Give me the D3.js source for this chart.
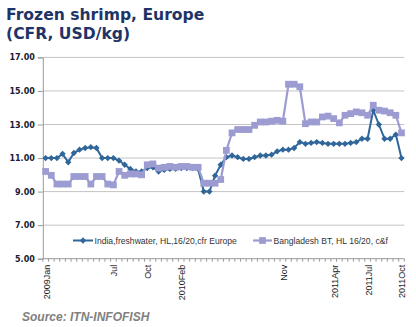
<!DOCTYPE html>
<html>
<head>
<meta charset="utf-8">
<script src="https://cdn.jsdelivr.net/npm/d3@7"></script>
<style>
  body { margin: 0; background: #fff; }
  svg { display: block; }
</style>
</head>
<body>
<svg id="chart" width="416" height="327"></svg>
<script>
// half-monthly price quotes, 2009Jan .. 2011Oct
var india = [11.0, 11.0, 11.0, 11.25, 10.75, 11.3, 11.5, 11.6, 11.65, 11.6,
  11.0, 11.0, 11.0, 10.85, 10.6, 10.35, 10.2, 10.2, 10.4, 10.45,
  10.2, 10.3, 10.35, 10.35, 10.4, 10.4, 10.4, 10.35, 9.0, 9.0,
  9.95, 10.6, 11.05, 11.15, 11.05, 10.95, 10.95, 11.05, 11.15, 11.15,
  11.2, 11.4, 11.5, 11.5, 11.6, 11.95, 11.85, 11.9, 11.95, 11.9,
  11.85, 11.85, 11.85, 11.85, 11.9, 11.95, 12.15, 12.15, 13.85, 13.0,
  12.15, 12.15, 12.4, 11.0];

var bangladesh = [10.2, 9.97, 9.45, 9.45, 9.45, 9.9, 9.9, 9.9, 9.45, 9.9,
  9.9, 9.45, 9.4, 10.2, 9.97, 10.05, 10.05, 10.0, 10.6, 10.65,
  10.4, 10.45, 10.5, 10.45, 10.5, 10.5, 10.45, 10.45, 9.5, 9.5,
  9.5, 9.72, 11.46, 12.5, 12.7, 12.7, 12.7, 12.95, 13.15, 13.15,
  13.2, 13.25, 13.2, 15.4, 15.4, 15.25, 13.05, 13.15, 13.15, 13.45,
  13.5, 13.35, 13.1, 13.55, 13.65, 13.75, 13.7, 13.55, 14.15, 13.85,
  13.8, 13.7, 13.55, 12.5];

var periodLabels = ["2009Jan", "Jul", "Oct", "2010Feb", "Nov", "2011Apr", "2011Jul", "2011Oct"];
var periodIndex = [0, 12, 18, 24, 42, 51, 57, 63];

var yTicks = [5, 7, 9, 11, 13, 15, 17];

var seriesNames = ["India,freshwater, HL,16/20,cfr Europe", "Bangladesh BT, HL 16/20, c&f"];

var indiaColor = "#31669a";
var bdColor = "#9c9cd2";

var svg = d3.select("#chart");

var plotLeft = 42.8, plotRight = 404.3, plotTop = 57.4, plotBottom = 258.7;

var x = d3.scaleBand()
  .domain(d3.range(india.length))
  .range([plotLeft, plotRight]);

var cx = function (i) { return x(i) + x.bandwidth() / 2; };

var y = d3.scaleLinear()
  .domain([5, 17])
  .range([plotBottom, plotTop]);

// title
var title = svg.append("text")
  .attr("font-family", "DejaVu Sans")
  .attr("font-weight", "bold")
  .attr("font-size", 15.6)
  .attr("fill", "#1f3466");
title.append("tspan").attr("x", 6).attr("y", 20).text("Frozen shrimp, Europe");
title.append("tspan").attr("x", 6).attr("y", 39).text("(CFR, USD/kg)");

// gridlines
svg.append("g")
  .selectAll("line")
  .data(yTicks.filter(function (d) { return d > 5; }))
  .join("line")
    .attr("x1", plotLeft)
    .attr("x2", plotRight)
    .attr("y1", function (d) { return y(d); })
    .attr("y2", function (d) { return y(d); })
    .attr("stroke", "#c4c4c4")
    .attr("stroke-width", 1);

// y axis
var yAxis = svg.append("g")
  .attr("transform", "translate(" + plotLeft + ",0)")
  .call(d3.axisLeft(y).tickValues(yTicks).tickFormat(d3.format(".2f")).tickSize(5).tickPadding(3));
yAxis.select(".domain").attr("stroke", "#9a9a9a");
yAxis.selectAll(".tick line").attr("stroke", "#9a9a9a");
yAxis.selectAll("text")
  .attr("font-family", "DejaVu Sans")
  .attr("font-weight", "bold")
  .attr("font-size", 8)
  .attr("fill", "#1a1a33");

// x axis with a tick on every period boundary
var xAxis = svg.append("g");
xAxis.append("line")
  .attr("x1", plotLeft).attr("x2", plotRight)
  .attr("y1", plotBottom).attr("y2", plotBottom)
  .attr("stroke", "#9a9a9a");
xAxis.selectAll("line.tk")
  .data(d3.range(india.length + 1))
  .join("line")
    .attr("class", "tk")
    .attr("x1", function (i) { return i < india.length ? x(i) : plotRight; })
    .attr("x2", function (i) { return i < india.length ? x(i) : plotRight; })
    .attr("y1", plotBottom)
    .attr("y2", plotBottom + 3)
    .attr("stroke", "#9a9a9a");
xAxis.selectAll("text")
  .data(periodIndex)
  .join("text")
    .attr("transform", function (d) { return "translate(" + (cx(d) + 1) + "," + (plotBottom + 6) + ") rotate(-90)"; })
    .attr("text-anchor", "end")
    .attr("dominant-baseline", "central")
    .attr("font-family", "Liberation Sans")
    .attr("font-size", 9)
    .attr("fill", "#1a1a1a")
    .text(function (d, i) { return periodLabels[i]; });

// series lines
var line = d3.line()
  .x(function (d, i) { return cx(i); })
  .y(function (d) { return y(d); });

var diamond = d3.symbol().type(d3.symbolSquare).size(20);
var square = d3.symbol().type(d3.symbolSquare).size(46);

svg.append("path")
  .datum(india)
  .attr("d", line)
  .attr("fill", "none")
  .attr("stroke", indiaColor)
  .attr("stroke-width", 2);
svg.append("g")
  .selectAll("path")
  .data(india)
  .join("path")
    .attr("d", diamond)
    .attr("transform", function (d, i) { return "translate(" + cx(i) + "," + y(d) + ") rotate(45)"; })
    .attr("fill", indiaColor);

svg.append("path")
  .datum(bangladesh)
  .attr("d", line)
  .attr("fill", "none")
  .attr("stroke", bdColor)
  .attr("stroke-width", 2.2);
svg.append("g")
  .selectAll("path")
  .data(bangladesh)
  .join("path")
    .attr("d", square)
    .attr("transform", function (d, i) { return "translate(" + cx(i) + "," + y(d) + ")"; })
    .attr("fill", bdColor);

// legend
var legend = svg.append("g").attr("transform", "translate(0,240.5)");
var l1 = legend.append("g").attr("transform", "translate(73,0)");
l1.append("line").attr("x1", 0).attr("x2", 20).attr("stroke", indiaColor).attr("stroke-width", 2);
l1.append("path").attr("d", diamond).attr("transform", "translate(10,0) rotate(45)").attr("fill", indiaColor);
l1.append("text").attr("x", 21.5).attr("dy", "0.35em")
  .attr("font-family", "Liberation Sans").attr("font-size", 8.6).attr("fill", "#333")
  .text(seriesNames[0]);

var l2 = legend.append("g").attr("transform", "translate(253,0)");
l2.append("line").attr("x1", 0).attr("x2", 19).attr("stroke", bdColor).attr("stroke-width", 2.2);
l2.append("path").attr("d", square).attr("transform", "translate(9.5,0)").attr("fill", bdColor);
l2.append("text").attr("x", 20.5).attr("dy", "0.35em")
  .attr("font-family", "Liberation Sans").attr("font-size", 8.6).attr("fill", "#333")
  .text(seriesNames[1]);

// source note
svg.append("text")
  .attr("x", 22)
  .attr("y", 321)
  .attr("font-family", "Liberation Sans")
  .attr("font-weight", "bold")
  .attr("font-style", "italic")
  .attr("font-size", 12)
  .attr("fill", "#808080")
  .text("Source: ITN-INFOFISH");
</script>
</body>
</html>
